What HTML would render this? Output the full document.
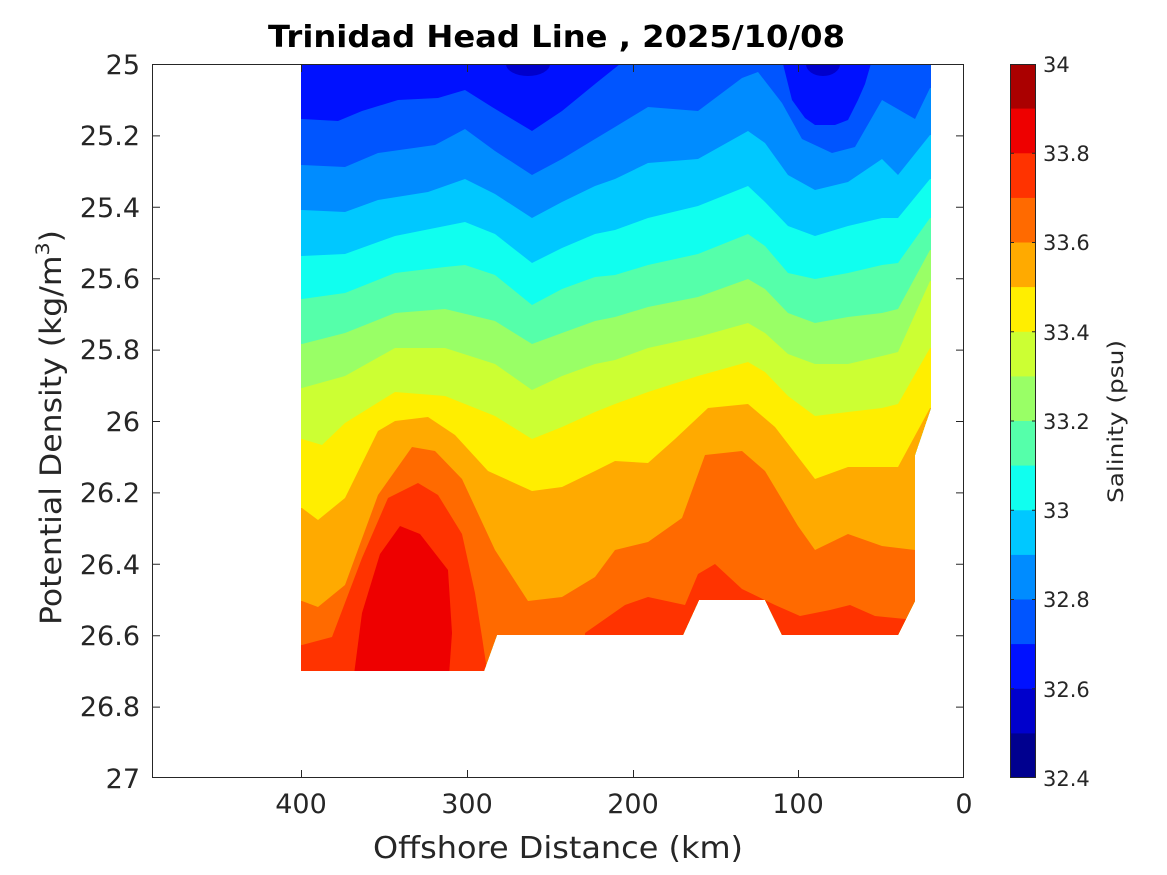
<!DOCTYPE html>
<html><head><meta charset="utf-8"><style>
html,body{margin:0;padding:0;background:#fff;}
svg{display:block;font-family:"DejaVu Sans","Liberation Sans",sans-serif;}
</style></head><body>
<svg width="1167" height="875" viewBox="0 0 1167 875" xmlns="http://www.w3.org/2000/svg">
<defs>
<clipPath id="d"><polygon points="301,64 931,64 931,408 915,455 915,601 898,635 782,635 765,600 699,600 683,635 497,635 484,671 301,671"/></clipPath>
</defs>
<g clip-path="url(#d)">
<rect x="290" y="50" width="660" height="640" fill="#0011ff"/>
<ellipse cx="528" cy="64" rx="22" ry="12" fill="#0000cc"/>
<ellipse cx="823" cy="64" rx="17" ry="12" fill="#0000cc"/>
<polygon fill="#0055ff" points="290,119 302,119 338,121 362,111 398,100 438,98 465,90 492,107 532,131 562,111 595,84 625,60 782,60 792,100 805,118 815,125 835,125 848,120 858,100 865,84 872,60 940,60 940,700 290,700"/>
<polygon fill="#008cff" points="290,165 302,165 345,167 378,153 435,145 465,129 495,151 532,175 562,159 595,139 615,127 648,107 698,111 742,78 758,72 782,103 802,139 832,153 855,147 882,100 915,119 930,88 940,88 940,700 290,700"/>
<polygon fill="#00c8ff" points="290,210 302,210 345,212 378,200 428,192 465,179 495,194 532,218 562,202 595,186 615,179 648,163 698,159 748,131 765,143 788,175 815,190 848,182 882,159 898,175 930,135 940,135 940,700 290,700"/>
<polygon fill="#10ffef" points="290,256 302,256 345,254 395,236 445,226 465,222 495,234 532,263 562,248 595,234 615,230 648,218 698,206 748,186 765,202 788,226 815,236 848,226 882,218 898,218 930,179 940,179 940,700 290,700"/>
<polygon fill="#55ffaa" points="290,299 302,299 345,293 395,273 445,267 465,265 495,275 532,305 562,289 595,277 615,275 648,265 698,254 748,234 765,246 788,273 815,279 848,273 882,265 898,263 930,218 940,218 940,700 290,700"/>
<polygon fill="#99ff66" points="290,344 302,344 345,333 395,313 445,309 495,321 532,344 562,333 595,321 615,317 648,307 698,297 748,279 765,289 788,313 815,323 848,317 882,313 898,309 930,250 940,250 940,700 290,700"/>
<polygon fill="#ccff33" points="290,388 302,388 345,376 395,348 445,348 495,364 532,390 562,376 595,364 615,360 648,348 698,337 748,323 765,333 788,354 815,364 848,364 882,356 898,352 930,281 940,281 940,700 290,700"/>
<polygon fill="#ffee00" points="290,439 302,439 322,445 345,423 395,392 445,396 495,416 532,439 562,427 595,412 615,404 648,392 698,376 748,362 765,372 788,396 815,416 848,412 882,408 898,404 930,348 940,348 940,700 290,700"/>
<polygon fill="#ffaa00" points="290,508 302,508 318,520 345,498 378,431 395,421 428,417 455,435 488,471 532,491 562,487 595,471 615,461 648,463 675,439 708,408 748,404 775,427 815,479 848,467 898,467 930,408 940,408 940,700 290,700"/>
<polygon fill="#ff6a00" points="290,601 302,601 318,607 345,585 378,495 412,447 435,451 462,479 495,550 528,601 562,597 595,577 615,550 648,542 682,518 705,455 742,451 765,471 798,526 815,550 848,534 882,546 915,550 940,550 940,700 290,700"/>
<polygon fill="#ff3300" points="290,645 302,645 332,637 362,558 388,498 418,483 438,495 462,534 475,593 482,637 490,690 290,690"/>
<polygon fill="#ff3300" points="585,633 625,605 648,597 685,605 698,574 715,564 742,589 775,605 800,616 830,610 850,605 875,616 915,620 915,690 585,690"/>
<polygon fill="#ee0000" points="352,690 362,613 380,554 400,526 420,534 448,570 452,633 448,690"/>
</g>
<g stroke="#262626" stroke-width="1" fill="none">
<rect x="152.5" y="64.5" width="811" height="713"/>
<path d="M152,135.9h8M152,207.3h8M152,278.7h8M152,350.1h8M152,421.5h8M152,492.9h8M152,564.3h8M152,635.7h8M152,707.1h8
M964,135.9h-8M964,207.3h-8M964,278.7h-8M964,350.1h-8M964,421.5h-8M964,492.9h-8M964,564.3h-8M964,635.7h-8M964,707.1h-8
M301.5,778v-8M467.5,778v-8M633.5,778v-8M798.5,778v-8
M301.5,64v8M467.5,64v8M633.5,64v8M798.5,64v8"/>
</g>
<g font-size="27" fill="#262626" text-anchor="end">
<text x="140" y="74">25</text><text x="140" y="145">25.2</text><text x="140" y="217">25.4</text>
<text x="140" y="288">25.6</text><text x="140" y="359">25.8</text><text x="140" y="431">26</text>
<text x="140" y="502">26.2</text><text x="140" y="574">26.4</text><text x="140" y="645">26.6</text>
<text x="140" y="716">26.8</text><text x="140" y="788">27</text>
</g>
<g font-size="27" fill="#262626" text-anchor="middle">
<text x="301" y="813">400</text><text x="467" y="813">300</text><text x="633" y="813">200</text>
<text x="798" y="813">100</text><text x="964" y="813">0</text>
</g>
<text x="373" y="858" font-size="30" fill="#262626" textLength="370" lengthAdjust="spacingAndGlyphs">Offshore Distance (km)</text>
<text x="268" y="47" font-size="30" font-weight="bold" fill="#000" textLength="577" lengthAdjust="spacingAndGlyphs">Trinidad Head Line , 2025/10/08</text>
<text transform="translate(61,625) rotate(-90)" font-size="29" fill="#262626" textLength="395" lengthAdjust="spacingAndGlyphs">Potential Density (kg/m<tspan dy="-12" font-size="19">3</tspan><tspan dy="12">)</tspan></text>
<g>
<rect x="1010" y="64" width="26" height="45" fill="#aa0000"/>
<rect x="1010" y="108.6" width="26" height="45" fill="#ee0000"/>
<rect x="1010" y="153.3" width="26" height="45" fill="#ff3300"/>
<rect x="1010" y="197.9" width="26" height="45" fill="#ff6a00"/>
<rect x="1010" y="242.5" width="26" height="45" fill="#ffaa00"/>
<rect x="1010" y="287.1" width="26" height="45" fill="#ffee00"/>
<rect x="1010" y="331.8" width="26" height="45" fill="#ccff33"/>
<rect x="1010" y="376.4" width="26" height="45" fill="#99ff66"/>
<rect x="1010" y="421" width="26" height="45" fill="#55ffaa"/>
<rect x="1010" y="465.6" width="26" height="45" fill="#10ffef"/>
<rect x="1010" y="510.3" width="26" height="45" fill="#00c8ff"/>
<rect x="1010" y="554.9" width="26" height="45" fill="#008cff"/>
<rect x="1010" y="599.5" width="26" height="45" fill="#0055ff"/>
<rect x="1010" y="644.1" width="26" height="45" fill="#0011ff"/>
<rect x="1010" y="688.8" width="26" height="45" fill="#0000cc"/>
<rect x="1010" y="733.4" width="26" height="44.6" fill="#00008f"/>
<rect x="1010.5" y="64.5" width="25" height="713" fill="none" stroke="#262626"/>
<path stroke="#262626" d="M1010,153.3h4M1010,242.5h4M1010,331.8h4M1010,421h4M1010,510.3h4M1010,599.5h4M1010,688.8h4M1036,153.3h-4M1036,242.5h-4M1036,331.8h-4M1036,421h-4M1036,510.3h-4M1036,599.5h-4M1036,688.8h-4"/>
</g>
<g font-size="21" fill="#262626">
<text x="1043" y="72">34</text><text x="1043" y="161">33.8</text><text x="1043" y="250">33.6</text>
<text x="1043" y="340">33.4</text><text x="1043" y="429">33.2</text><text x="1043" y="518">33</text>
<text x="1043" y="607">32.8</text><text x="1043" y="697">32.6</text><text x="1043" y="786">32.4</text>
</g>
<text transform="translate(1123,503) rotate(-90)" font-size="21" fill="#262626" textLength="163" lengthAdjust="spacingAndGlyphs">Salinity (psu)</text>
</svg>
</body></html>
